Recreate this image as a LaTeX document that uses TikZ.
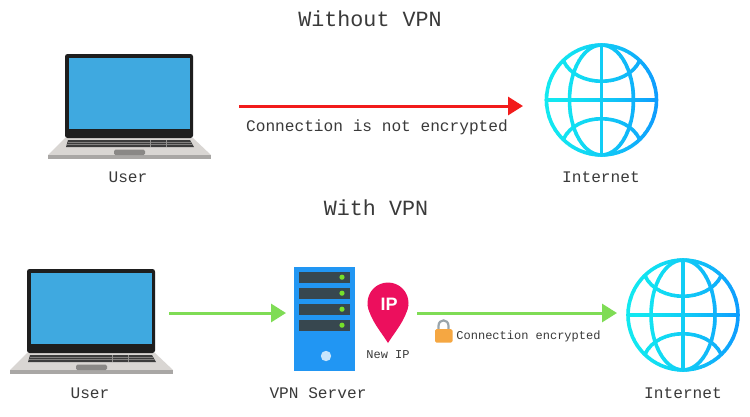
\documentclass[tikz,border=0pt]{standalone}
\usepackage{fontspec}
\setmainfont{Liberation Mono}
\newfontfamily\pinfont{Liberation Sans}
\usetikzlibrary{arrows.meta}
\definecolor{txt}{HTML}{3A3A3A}
\definecolor{screenblue}{HTML}{3FA9E0}
\definecolor{lidblack}{HTML}{1E1E1E}
\definecolor{basegrey}{HTML}{D9D6D3}
\definecolor{basedark}{HTML}{A9A7A5}
\definecolor{padgrey}{HTML}{8A8886}
\definecolor{keygrey}{HTML}{3C3C3C}
\definecolor{globeL}{HTML}{12EAF0}
\definecolor{globeR}{HTML}{0E96FF}
\definecolor{srvblue}{HTML}{2196F3}
\definecolor{slotdark}{HTML}{37474F}
\definecolor{led}{HTML}{76E02A}
\definecolor{pinred}{HTML}{EC0F5D}
\definecolor{arrowred}{HTML}{F21B1B}
\definecolor{arrowgreen}{HTML}{7FDC55}
\definecolor{lockorange}{HTML}{F5A742}
\definecolor{lockgrey}{HTML}{9AA5AB}
\tikzset{
  big/.style={text=txt,inner sep=0pt,font=\fontsize{21.7}{22}\selectfont},
  mid/.style={text=txt,inner sep=0pt,font=\fontsize{16.15}{16}\selectfont},
  small/.style={text=txt,inner sep=0pt,font=\fontsize{12}{12}\selectfont},
  redarrow/.style={draw=arrowred,line width=3pt,-{Triangle[length=15pt,width=18pt]}},
  greenarrow/.style={draw=arrowgreen,line width=3pt,-{Triangle[length=15pt,width=18pt]}},
  globeline/.style={line width=3.6pt,line cap=butt},
}
\newcommand{\mylaptop}[2]{%
  \begin{scope}[shift={(#1,#2)}]
    \fill[basegrey] (65,138) -- (193,138) -- (211,155) -- (48,155) -- cycle;
    \fill[basedark] (48,155) rectangle (211,158.5);
    \fill[rounded corners=2.5pt,lidblack] (65,54) rectangle (193,138);
    \fill[screenblue] (69,58) rectangle (190,129);
    \fill[keygrey] (68,140) -- (190,140) -- (194,147) -- (66,147) -- cycle;
    \draw[keygrey!55!basegrey,line width=.5pt] (67.5,142.4) -- (191,142.4) (67,144.7) -- (192.5,144.7);
    \draw[keygrey!45!basegrey,line width=.6pt] (150,140) -- (150,147) (166,140) -- (166,147);
    \fill[padgrey,rounded corners=1.5pt] (114,149.5) rectangle (145,155);
  \end{scope}}
\newcommand{\myglobe}[2]{%
  \foreach \i in {0,...,40}{%
    \pgfmathtruncatemacro{\pct}{100*(1-(\i/40)^1.5)}
    \pgfmathsetmacro{\xa}{#1-60+\i*3}
    \pgfmathsetmacro{\xb}{\xa+3.3}
    \begin{scope}
      \clip (\xa,#2-60) rectangle (\xb,#2+60);
      \begin{scope}[shift={(#1,#2)},globeline,draw=globeL!\pct!globeR]
        \draw (0,0) circle (55);
        \draw (0,0) ellipse (32 and 55);
        \draw (0,-55) -- (0,55);
        \draw (-55,0) -- (55,0);
        \draw (-38,-39) .. controls (-25,-12) and (25,-12) .. (38,-39);
        \draw (-38,39) .. controls (-25,12) and (25,12) .. (38,39);
      \end{scope}
    \end{scope}}}
\begin{document}
\begin{tikzpicture}[x=1pt,y=-1pt]
\useasboundingbox (0,0) rectangle (750,416);
\fill[white] (0,0) rectangle (750,416);

% top row
\mylaptop{0}{0}
\myglobe{601.5}{100}
\coordinate (redstart) at (239,106);
\coordinate (redend) at (523,106);
\draw[redarrow] (redstart) -- (redend);
\node[big] (titleA) at (370,19) {Without VPN};
\node[mid] (noenc) at (377,127) {Connection is not encrypted};
\node[mid] (userA) at (128,177) {User};
\node[mid] (netA) at (601,177) {Internet};

% bottom row
\mylaptop{-38}{215}
\myglobe{683}{315}
\node[big] (titleB) at (376,208) {With VPN};
\node[mid] (userB) at (90,393) {User};
\node[mid] (vpn) at (318,393) {VPN Server};
\node[mid] (netB) at (683,393) {Internet};

% server
\fill[srvblue] (294,267) rectangle (355,371);
\foreach \yy in {272,288,304,320}{
  \fill[slotdark] (299,\yy) rectangle (350,\yy+10.5);
  \fill[led] (342,\yy+5.2) circle (2.6);
}
\fill[white!75!srvblue] (326,356) circle (5.2);

% pin
\fill[pinred] (388,303) circle (20.5);
\fill[pinred] (367.6,305) .. controls (370,320) and (382,333) .. (388,343)
  .. controls (394,333) and (406,320) .. (408.4,305) -- cycle;
\node[text=white,inner sep=0pt,font=\pinfont\bfseries\fontsize{18}{18}\selectfont] (ip) at (389,304) {IP};
\node[small] (newip) at (388,355) {New IP};

% lock
\draw[lockgrey,line width=2.2pt] (438.5,330) -- (438.5,326) .. controls (438.5,318.5) and (448.5,318.5) .. (448.5,326) -- (448.5,330);
\fill[lockorange,rounded corners=1.5pt] (435,329) rectangle (452.5,342.5);
\node[small] (enc) at (528.5,336) {Connection encrypted};

% green arrows
\coordinate (gaS) at (169,313);
\coordinate (gaE) at (286,313);
\coordinate (gbS) at (417,313);
\coordinate (gbE) at (617,313);
\draw[greenarrow] (gaS) -- (gaE);
\draw[greenarrow] (gbS) -- (gbE);
\end{tikzpicture}
\end{document}
